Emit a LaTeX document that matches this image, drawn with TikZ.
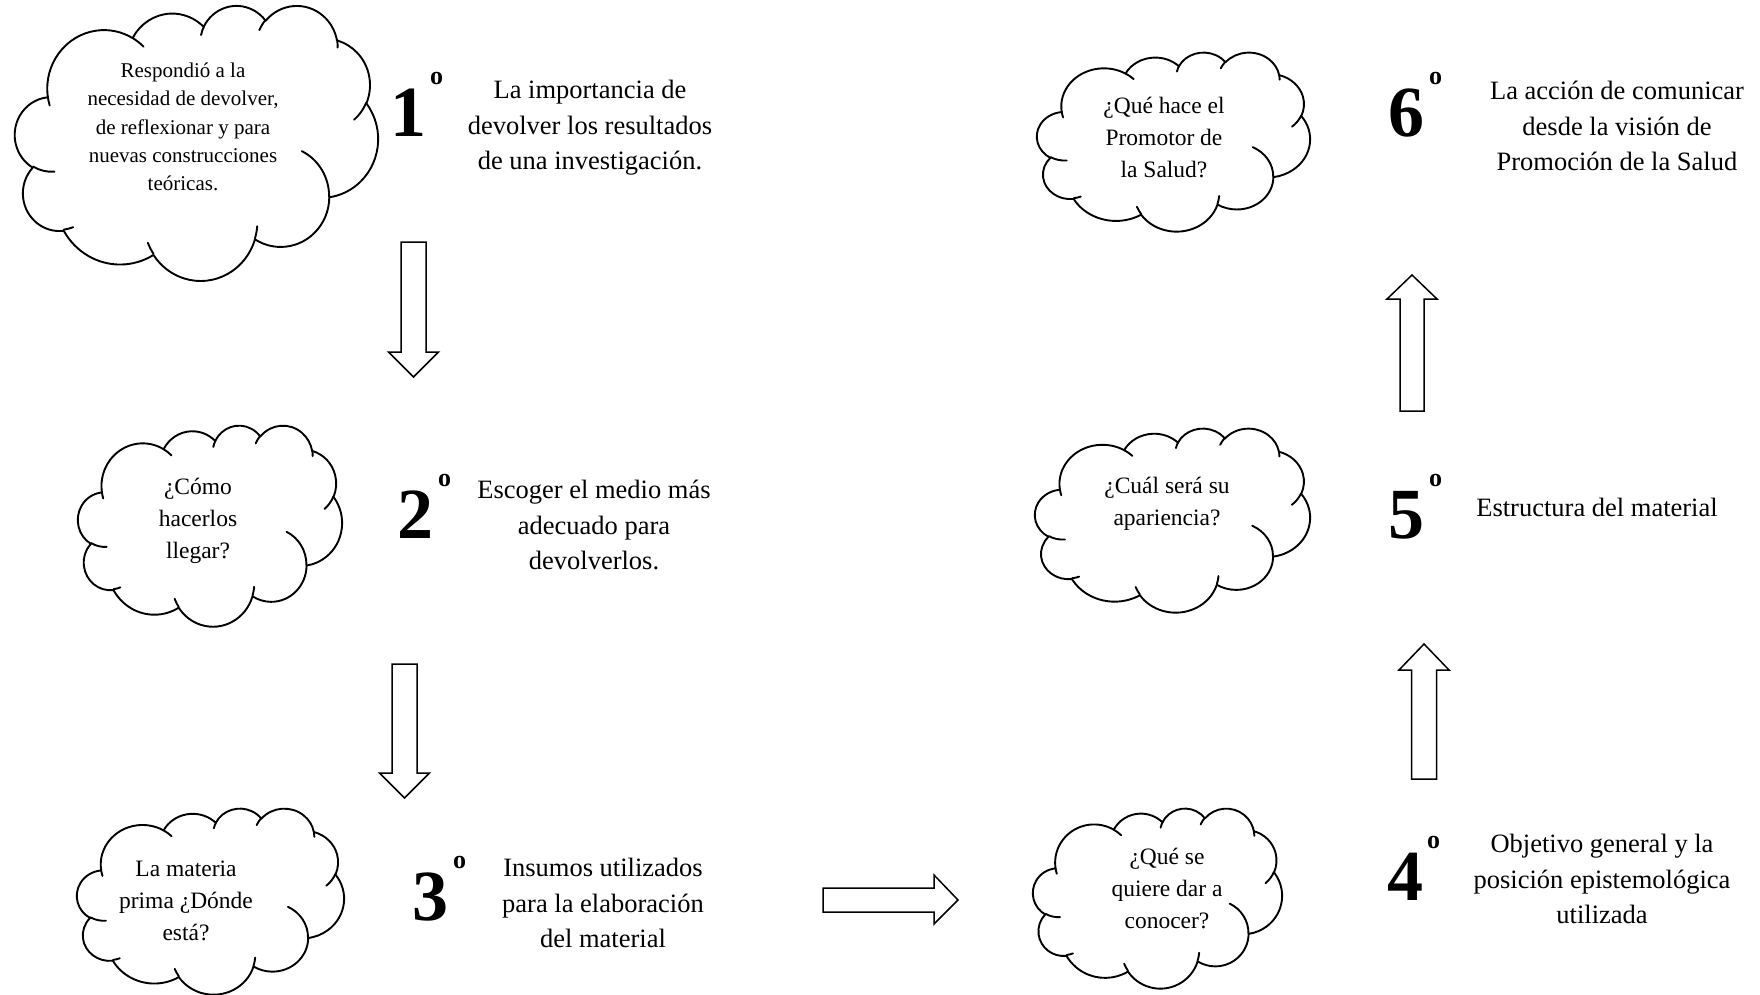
\documentclass[tikz,border=0pt]{standalone}
\usepackage{fontspec}
\setmainfont{Liberation Serif}
\tikzset{
  cloudline/.style={line width=1.9pt, line join=round, line cap=round},
  blockarrow/.style={draw, line width=1.5pt, fill=white, line join=miter},
  cloudtext/.style={font=\fontsize{23.5}{32}\selectfont, align=center, inner sep=0pt},
  cloudsmall/.style={font=\fontsize{21}{28.3}\selectfont, align=center, inner sep=0pt},
  desctext/.style={font=\fontsize{26.5}{35.5}\selectfont, align=center, inner sep=0pt},
  numtext/.style={font=\fontsize{72}{72}\selectfont\bfseries, inner sep=0pt, anchor=base west},
}
\newcommand\OA[4]{arc[x radius=#1, y radius=#2, start angle={atan2((#1)*sin(#3),(#2)*cos(#3))}, delta angle={mod(atan2((#1)*sin((#3)+(#4)),(#2)*cos((#3)+(#4)))-atan2((#1)*sin(#3),(#2)*cos(#3))+720,360)}]}
\newcommand\cloudat[5]{%
\begin{scope}[shift={(#2,#3)}, xscale=#4/100, yscale=#5/100]
\draw[cloudline, fill=white] (9.028,33.264) \OA{15.632}{21.273}{-190.4875}{123.7805} \OA{12.345}{16.822}{-144.1024}{89.9452} \OA{10.104}{13.762}{-145.8079}{99.7230} \OA{11.243}{15.266}{-130.9861}{117.2417} \OA{12.345}{16.836}{-78.7089}{109.0269} \OA{15.683}{21.343}{-46.2673}{130.2690} \OA{13.391}{18.211}{0.6250}{114.0333} \OA{15.630}{21.331}{22.4516}{115.1726} \OA{17.870}{24.405}{66.2426}{75.7110} \OA{10.093}{13.699}{-274.9421}{146.7356} \OA{10.058}{13.762}{-246.8285}{152.5189} -- cycle;
\draw[cloudline] (10.863,60.595) \OA{10.058}{13.762}{86.7420}{26.4295}
 (16.037,80.785) \OA{10.093}{13.699}{73.6105}{11.4475}
 (38.144,90.486) \OA{15.630}{21.331}{137.6242}{14.0811}
 (66.729,80.442) \OA{15.630}{21.331}{6.4533}{15.9984}
 (79.002,53.134) \OA{13.391}{18.211}{-70.2924}{70.9174}
 (96.755,35.542) \OA{12.345}{16.836}{30.3180}{27.7515}
 (88.713,12.560) \OA{11.243}{15.266}{-13.7443}{14.8589}
 (67.310,9.148) \OA{11.243}{15.266}{-149.1815}{18.1954}
 (51.252,10.926) \OA{10.104}{13.762}{-163.4943}{17.6864}
 (32.407,12.019) \OA{15.632}{21.273}{-66.7070}{12.3194}
 (9.553,36.549) \OA{15.632}{21.273}{157.6544}{11.8582};
\coordinate (#1) at (50,50);
\end{scope}}
% vertical block arrow: name, cx, start(y), headbase(y), tip(y), shaft half, head half
\newcommand\varrow[7]{%
\draw[blockarrow] ({#2-#6},#3) -- ({#2+#6},#3) -- ({#2+#6},#4) -- ({#2+#7},#4) -- (#2,#5) -- ({#2-#7},#4) -- ({#2-#6},#4) -- cycle;
\coordinate (#1) at (#2,#5);}
\begin{document}
\begin{tikzpicture}[x=1pt,y=-1pt]
\useasboundingbox (0,0) rectangle (1760,995);
\fill[white] (0,0) rectangle (1760,995);

% clouds
\cloudat{k1}{15}{5}{363}{275}
\cloudat{k2}{78}{425}{264}{201}
\cloudat{k3}{77}{808}{267}{186}
\cloudat{k4}{1033}{808}{249}{180}
\cloudat{k5}{1035}{428}{275}{184}
\cloudat{k6}{1037}{52}{273}{179}

% cloud texts
\node[cloudsmall] (t1) at (183,127) {Respondió a la\\necesidad de devolver,\\de reflexionar y para\\nuevas construcciones\\teóricas.};
\node[cloudtext] (t2) at (198,521) {¿Cómo\\hacerlos\\llegar?};
\node[cloudtext] (t3) at (186,901) {La materia\\prima ¿Dónde\\está?};
\node[cloudtext] (t4) at (1167,888) {¿Qué se\\quiere dar a\\conocer?};
\node[cloudtext] (t5) at (1167,504) {¿Cuál será su\\apariencia?};
\node[cloudtext] (t6) at (1164,137) {¿Qué hace el\\Promotor de\\la Salud?};

% numbers
\node[numtext] (n1) at (390,137) {1\hspace{4pt}\raisebox{52pt}{\fontsize{26}{26}\selectfont o}};
\node[numtext] (n2) at (397,538) {2\hspace{5pt}\raisebox{52pt}{\fontsize{26}{26}\selectfont o}};
\node[numtext] (n3) at (412,920) {3\hspace{5pt}\raisebox{52pt}{\fontsize{26}{26}\selectfont o}};
\node[numtext] (n4) at (1387,900) {4\hspace{4pt}\raisebox{52pt}{\fontsize{26}{26}\selectfont o}};
\node[numtext] (n5) at (1388,538) {5\hspace{5pt}\raisebox{52pt}{\fontsize{26}{26}\selectfont o}};
\node[numtext] (n6) at (1388,137) {6\hspace{5pt}\raisebox{52pt}{\fontsize{26}{26}\selectfont o}};

% descriptions
\node[desctext] (d1) at (590,128) {La importancia de\\devolver los resultados\\de una investigación.};
\node[desctext] (d2) at (594,525) {Escoger el medio más\\adecuado para\\devolverlos.};
\node[desctext] (d3) at (603,903) {Insumos utilizados\\para la elaboración\\del material};
\node[desctext] (d4) at (1602,879) {Objetivo general y la\\posición epistemológica\\utilizada};
\node[desctext] (d5) at (1597,507) {Estructura del material};
\node[desctext] (d6) at (1617,126) {La acción de comunicar\\desde la visión de\\Promoción de la Salud};

% block arrows
\varrow{a1}{413.5}{242}{352}{377}{12.5}{25}
\varrow{a2}{404.5}{664}{773}{798}{12.5}{25}
\varrow{a4}{1424}{779}{670}{644}{12.5}{25}
\varrow{a5}{1412}{411}{299}{275}{12}{25}
\draw[blockarrow] (823,888) -- (934,888) -- (934,875) -- (958,900) -- (934,924) -- (934,912) -- (823,912) -- cycle;
\coordinate (a3) at (958,900);
\end{tikzpicture}
\end{document}
